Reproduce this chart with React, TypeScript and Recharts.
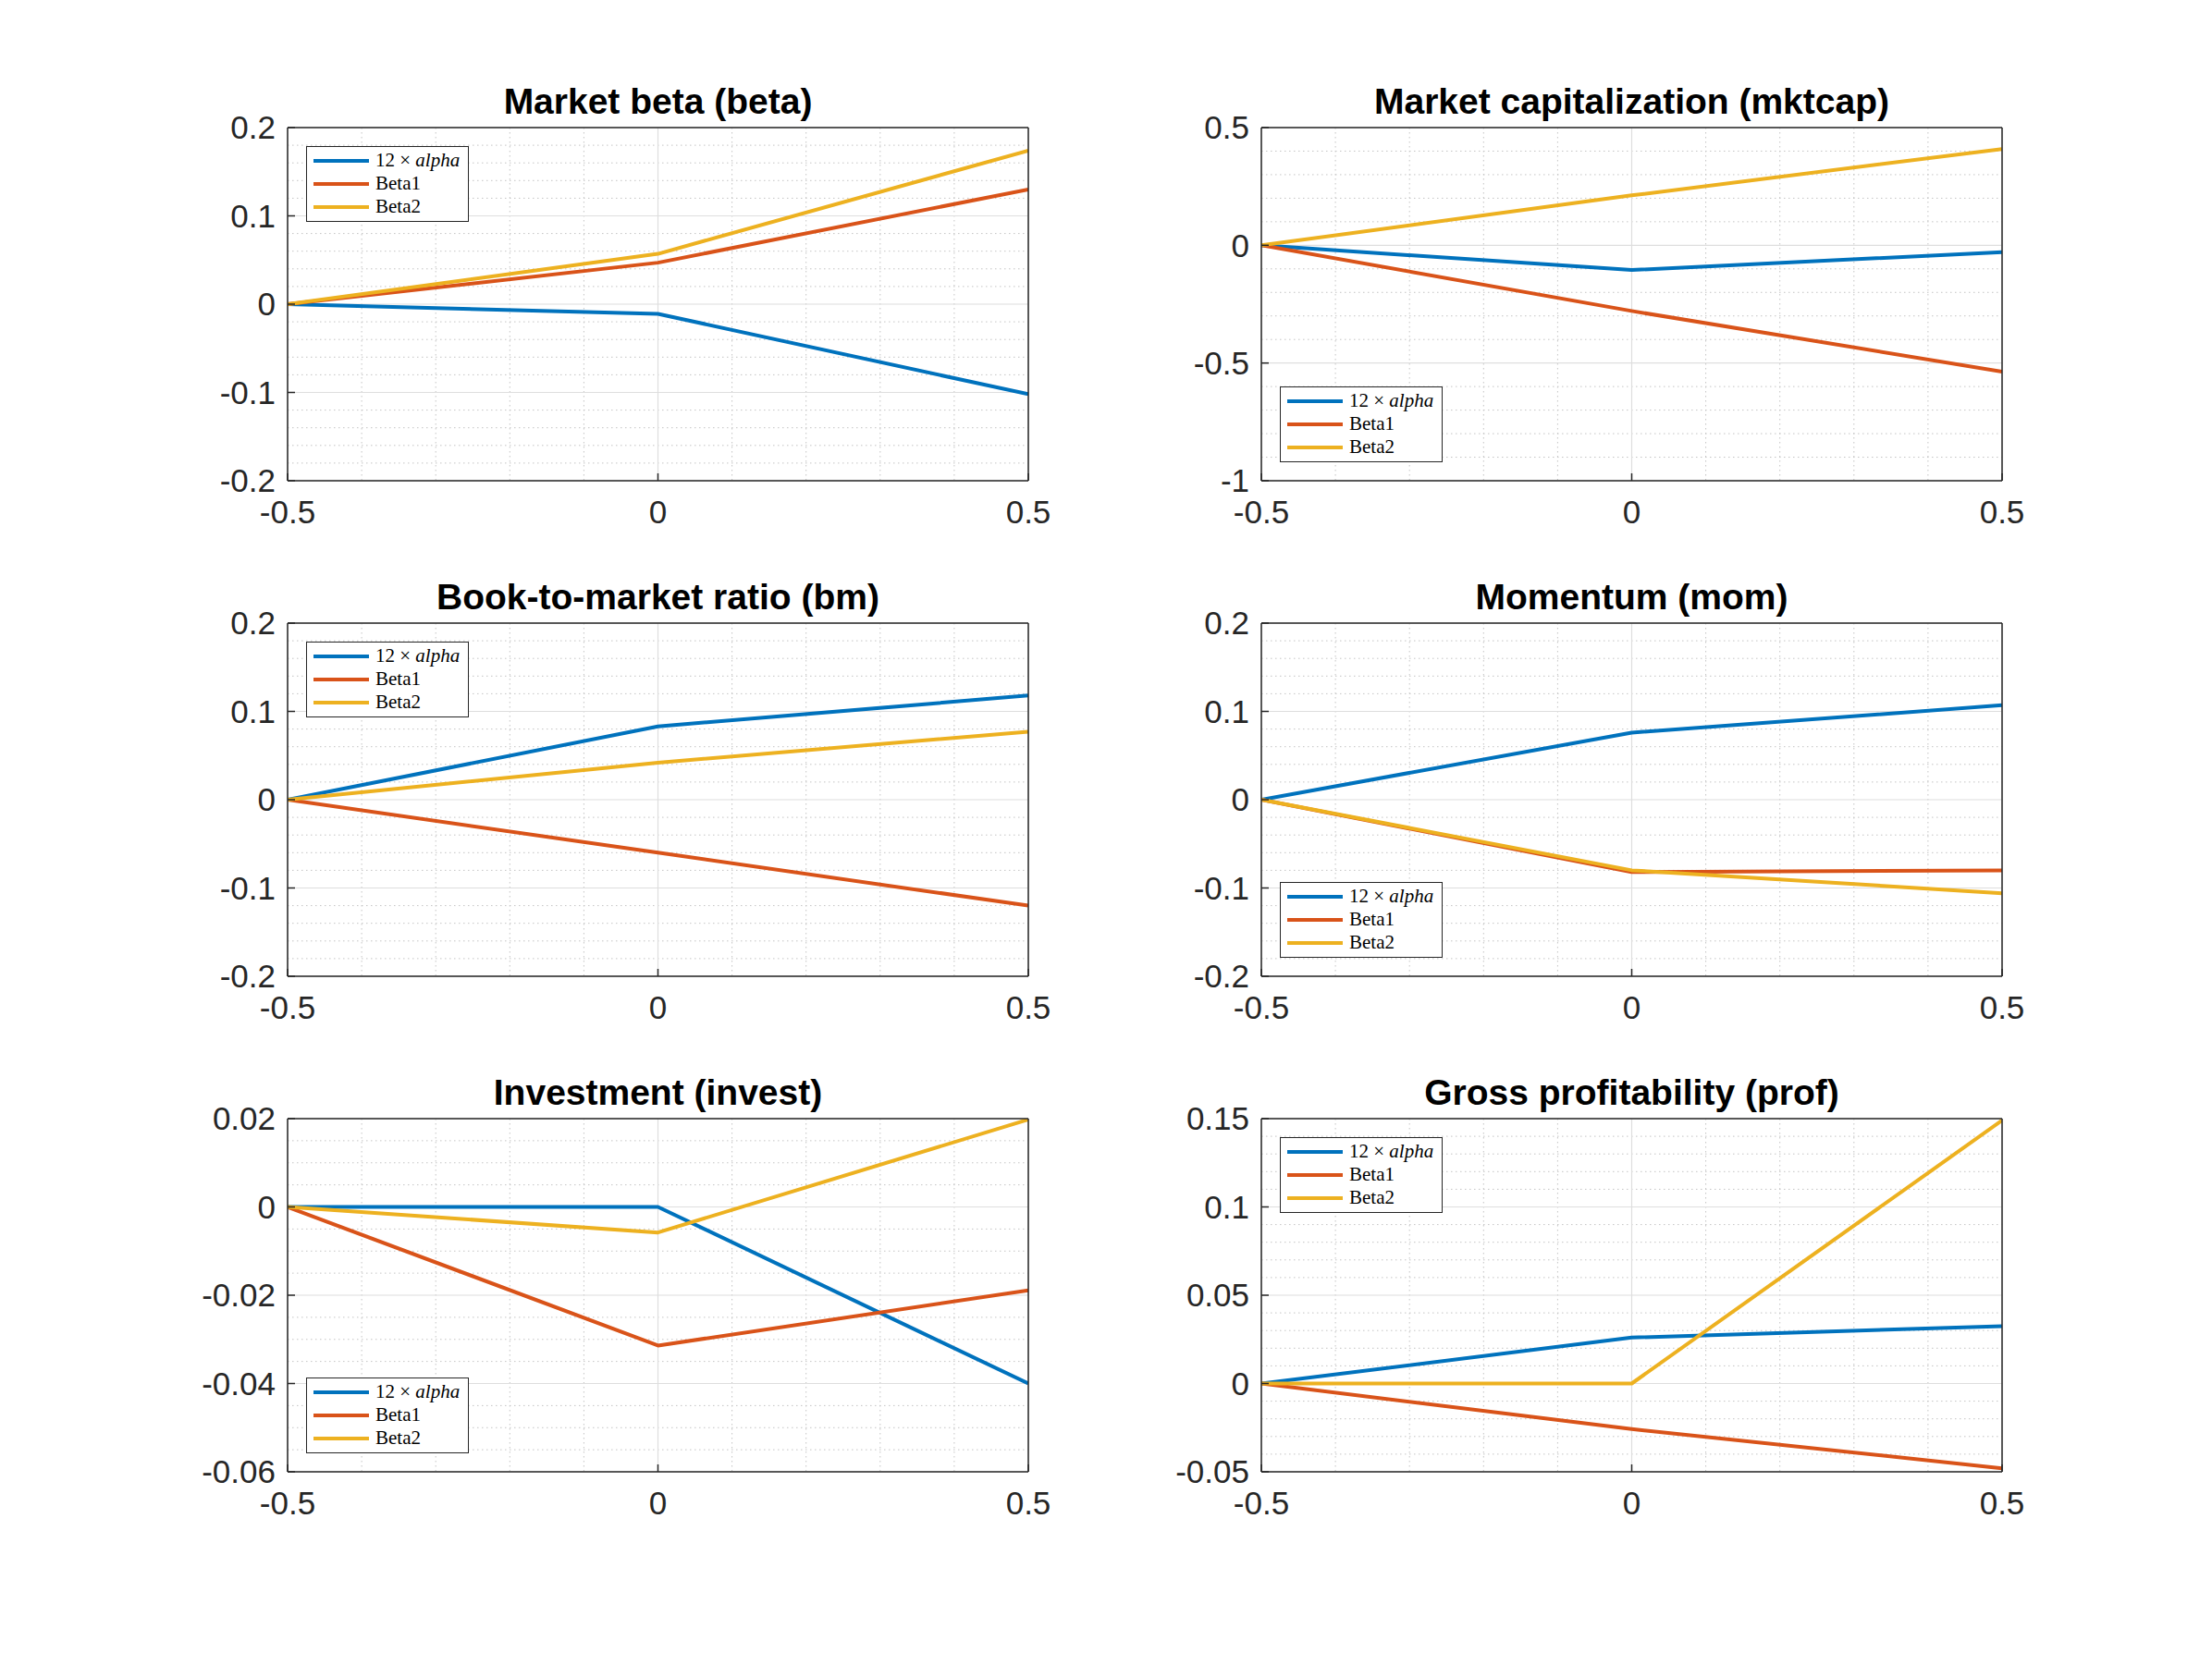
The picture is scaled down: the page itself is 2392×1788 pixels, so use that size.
import React from 'react';
import { LineChart, Line, XAxis, YAxis, CartesianGrid } from 'recharts';

// x grid of the three estimates
const xs = [-0.5, 0, 0.5];
const xTicks = [-0.5, 0, 0.5];

// Market beta
const betaAlpha = [0, -0.011, -0.102];
const betaBeta1 = [0, 0.047, 0.13];
const betaBeta2 = [0, 0.057, 0.174];
const betaTicks = [-0.2, -0.1, 0, 0.1, 0.2];

// Market capitalization
const mktcapAlpha = [0, -0.105, -0.029];
const mktcapBeta1 = [0, -0.279, -0.537];
const mktcapBeta2 = [0, 0.212, 0.409];
const mktcapTicks = [-1, -0.5, 0, 0.5];

// Book-to-market
const bmAlpha = [0, 0.083, 0.118];
const bmBeta1 = [0, -0.06, -0.12];
const bmBeta2 = [0, 0.042, 0.077];
const bmTicks = [-0.2, -0.1, 0, 0.1, 0.2];

// Momentum
const momAlpha = [0, 0.076, 0.107];
const momBeta1 = [0, -0.082, -0.08];
const momBeta2 = [0, -0.08, -0.106];
const momTicks = [-0.2, -0.1, 0, 0.1, 0.2];

// Investment
const investAlpha = [0, 0, -0.04];
const investBeta1 = [0, -0.0314, -0.0189];
const investBeta2 = [0, -0.0058, 0.0198];
const investTicks = [-0.06, -0.04, -0.02, 0, 0.02];

// Gross profitability
const profAlpha = [0, 0.026, 0.0325];
const profBeta1 = [0, -0.0258, -0.048];
const profBeta2 = [0, 0, 0.149];
const profTicks = [-0.05, 0, 0.05, 0.1, 0.15];

const BLUE = '#0072BD';
const ORANGE = '#D95319';
const YELLOW = '#EDB120';
const AXIS = '#262626';

const COL_LEFT = [311, 1364];
const ROW_TOP = [138, 674, 1210];
const W = 801;
const H = 382;
const PAD_L = 130;
const PAD_R = 60;
const PAD_T = 30;
const PAD_B = 75;

type Panel = {
  title: string;
  col: number;
  row: number;
  ticks: number[];
  minorPer: number; // minor divisions per major step
  legend: 'nw' | 'sw';
  alpha: number[];
  beta1: number[];
  beta2: number[];
};

const panels: Panel[] = [
  { title: 'Market beta (beta)', col: 0, row: 0, ticks: betaTicks, minorPer: 5, legend: 'nw', alpha: betaAlpha, beta1: betaBeta1, beta2: betaBeta2 },
  { title: 'Market capitalization (mktcap)', col: 1, row: 0, ticks: mktcapTicks, minorPer: 5, legend: 'sw', alpha: mktcapAlpha, beta1: mktcapBeta1, beta2: mktcapBeta2 },
  { title: 'Book-to-market ratio (bm)', col: 0, row: 1, ticks: bmTicks, minorPer: 5, legend: 'nw', alpha: bmAlpha, beta1: bmBeta1, beta2: bmBeta2 },
  { title: 'Momentum (mom)', col: 1, row: 1, ticks: momTicks, minorPer: 5, legend: 'sw', alpha: momAlpha, beta1: momBeta1, beta2: momBeta2 },
  { title: 'Investment (invest)', col: 0, row: 2, ticks: investTicks, minorPer: 4, legend: 'sw', alpha: investAlpha, beta1: investBeta1, beta2: investBeta2 },
  { title: 'Gross profitability (prof)', col: 1, row: 2, ticks: profTicks, minorPer: 5, legend: 'nw', alpha: profAlpha, beta1: profBeta1, beta2: profBeta2 },
];

// minor grid positions between major ticks
function minorValues(ticks: number[], per: number): number[] {
  const out: number[] = [];
  for (let i = 0; i < ticks.length - 1; i++) {
    const step = (ticks[i + 1] - ticks[i]) / per;
    for (let k = 1; k < per; k++) out.push(+(ticks[i] + k * step).toFixed(6));
  }
  return out;
}

const xMinor = minorValues(xTicks, 5);

const tickFont = { fontSize: 35, fill: AXIS, fontFamily: '"Liberation Sans", Arial, sans-serif' };

function Legend({ left, top }: { left: number; top: number }) {
  const rows = [
    { color: BLUE, label: <span>12 × <i>alpha</i></span> },
    { color: ORANGE, label: <span>Beta1</span> },
    { color: YELLOW, label: <span>Beta2</span> },
  ];
  return (
    <div
      style={{
        position: 'absolute', left, top, width: 176, height: 82, boxSizing: 'border-box',
        border: `1.5px solid ${AXIS}`, background: '#fff',
        fontFamily: '"Liberation Serif", "Times New Roman", serif', fontSize: 21, color: '#000',
      }}
    >
      {rows.map((r, i) => (
        <div key={i} style={{ position: 'absolute', left: 0, top: 2 + i * 25, height: 25, display: 'flex', alignItems: 'center' }}>
          <span style={{ display: 'inline-block', marginLeft: 7, width: 60, height: 4, background: r.color }} />
          <span style={{ marginLeft: 7, whiteSpace: 'nowrap' }}>{r.label}</span>
        </div>
      ))}
    </div>
  );
}

function PanelChart({ p }: { p: Panel }) {
  const left = COL_LEFT[p.col];
  const top = ROW_TOP[p.row];
  const domain: [number, number] = [p.ticks[0], p.ticks[p.ticks.length - 1]];
  const data = xs.map((x, i) => ({ x, alpha: p.alpha[i], beta1: p.beta1[i], beta2: p.beta2[i] }));
  const yMinor = minorValues(p.ticks, p.minorPer);

  return (
    <>
      <div
        style={{
          position: 'absolute', left, top: top - 48, width: W, textAlign: 'center',
          fontFamily: '"Liberation Sans", Arial, sans-serif', fontWeight: 'bold', fontSize: 39,
          lineHeight: '39px', color: '#000', whiteSpace: 'nowrap',
        }}
      >
        {p.title}
      </div>
      <div style={{ position: 'absolute', left: left - PAD_L, top: top - PAD_T }}>
        <LineChart
          width={W + PAD_L + PAD_R}
          height={H + PAD_T + PAD_B}
          data={data}
          margin={{ top: PAD_T - 1, right: PAD_R - 1, bottom: 0, left: 0 }}
        >
          <CartesianGrid
            horizontalValues={yMinor}
            verticalValues={xMinor}
            stroke="#c4c4c4"
            strokeDasharray="1.5 3.5"
            strokeWidth={1}
          />
          <CartesianGrid
            horizontalValues={p.ticks}
            verticalValues={xTicks}
            stroke="#dedede"
            strokeWidth={1.2}
          />
          <XAxis
            dataKey="x"
            type="number"
            domain={[-0.5, 0.5]}
            ticks={xTicks}
            interval={0}
            allowDataOverflow
            height={PAD_B}
            tick={tickFont}
            tickSize={-8}
            tickMargin={29}
            tickLine={{ stroke: AXIS, strokeWidth: 1.5 }}
            axisLine={{ stroke: AXIS, strokeWidth: 1.5 }}
          />
          <XAxis
            xAxisId="top"
            orientation="top"
            dataKey="x"
            type="number"
            domain={[-0.5, 0.5]}
            ticks={xTicks}
            interval={0}
            allowDataOverflow
            height={1}
            tick={false}
            tickSize={-8}
            tickLine={{ stroke: AXIS, strokeWidth: 1.5 }}
            axisLine={{ stroke: AXIS, strokeWidth: 1.5 }}
          />
          <YAxis
            type="number"
            domain={domain}
            ticks={p.ticks}
            interval={0}
            allowDataOverflow
            width={PAD_L}
            tick={tickFont}
            tickSize={-8}
            tickMargin={21}
            tickLine={{ stroke: AXIS, strokeWidth: 1.5 }}
            axisLine={{ stroke: AXIS, strokeWidth: 1.5 }}
          />
          <YAxis
            yAxisId="right"
            orientation="right"
            type="number"
            domain={domain}
            ticks={p.ticks}
            interval={0}
            allowDataOverflow
            width={1}
            tick={false}
            tickSize={-8}
            tickLine={{ stroke: AXIS, strokeWidth: 1.5 }}
            axisLine={{ stroke: AXIS, strokeWidth: 1.5 }}
          />
          <Line dataKey="alpha" stroke={BLUE} strokeWidth={4} dot={false} strokeLinejoin="round" isAnimationActive={false} />
          <Line dataKey="beta1" stroke={ORANGE} strokeWidth={4} dot={false} strokeLinejoin="round" isAnimationActive={false} />
          <Line dataKey="beta2" stroke={YELLOW} strokeWidth={4} dot={false} strokeLinejoin="round" isAnimationActive={false} />
        </LineChart>
      </div>
      <Legend left={left + 20} top={p.legend === 'nw' ? top + 20 : top + H - 20 - 82} />
    </>
  );
}

export default function App() {
  return (
    <div style={{ position: 'absolute', left: 0, top: 0, width: 2392, height: 1788, background: '#fff', overflow: 'hidden' }}>
      {panels.map((p) => (
        <PanelChart key={p.title} p={p} />
      ))}
    </div>
  );
}
